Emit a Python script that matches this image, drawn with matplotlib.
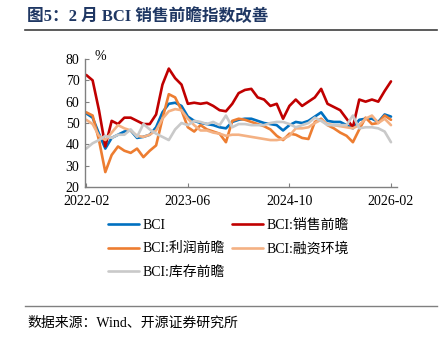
import matplotlib
matplotlib.use("Agg")
import matplotlib.pyplot as plt
from matplotlib.lines import Line2D

plt.rcParams['font.family'] = ['Liberation Serif', 'Noto Sans CJK SC']
plt.rcParams['axes.unicode_minus'] = False

tick_labels = ["2022-02", "2023-06", "2024-10", "2026-02"]
tick_idx = [0, 16, 32, 48]

bci = [54.5, 52.5, 45, 38, 43, 44.5, 46, 46.5, 43, 43.5, 44.5, 48, 55, 59, 59.5, 58,
       53, 51, 50, 49.5, 49, 48, 47.5, 50.5, 51.5, 52, 52, 51, 50, 49.5, 49, 46.5,
       49, 50.5, 50, 51, 53, 55, 51, 50.5, 50.5, 49, 47.5, 51.5, 52, 52, 50.5, 54, 53]
sales = [72.5, 70, 56, 39, 51, 49.5, 52.5, 52.5, 51, 49.5, 49.5, 54, 68, 75.5, 71, 68,
         59, 59.5, 59, 59.5, 58, 56, 55.5, 59, 64, 65.5, 66, 62, 61, 58, 59, 52,
         58, 61, 58, 60, 62, 66, 59, 57.5, 56, 52, 48, 61, 60, 61, 60, 65, 69.5]
profit = [55, 53.5, 42, 27, 35, 39, 37, 36, 38, 34, 37, 39.5, 52, 63.5, 62, 56,
          48, 46, 49, 47, 46, 45, 41, 51, 52, 51.5, 50.5, 49.5, 48.5, 47, 44, 42,
          45, 44.5, 43, 42.5, 50.5, 52, 49, 47.5, 45.5, 44, 41, 47, 52.5, 49.5, 50, 53.5, 51.5]
finance = [51.5, 49.5, 44, 42, 45.5, 49, 47.5, 46.5, 44, 43.5, 44.5, 46.5, 52, 55.5, 56.5, 56,
           52, 49, 46.5, 46.5, 45.5, 45, 44, 44.5, 44.5, 44, 43.5, 43, 42.5, 42, 42, 42.5,
           44, 47.5, 47.5, 48, 50, 51.5, 49.5, 49, 48.5, 48, 47.5, 49, 52, 53.5, 50, 52, 49]
inventory = [38, 40.5, 42, 44, 43, 44.5, 44.5, 47, 43.5, 49.5, 47, 45, 43.5, 42, 47, 50,
             49, 51, 50.5, 49.5, 50.5, 49, 53.5, 48, 49.5, 49.5, 49, 49, 49, 50, 50.5, 50.5,
             49.5, 48, 49, 50, 52.5, 51, 49, 49, 49, 49, 53.5, 47.5, 48, 48, 47.5, 46, 41]

series = [
    ("BCI", bci, "#0070C0"),
    ("BCI:销售前瞻", sales, "#C00000"),
    ("BCI:利润前瞻", profit, "#ED7D31"),
    ("BCI:融资环境", finance, "#F4B183"),
    ("BCI:库存前瞻", inventory, "#C9C9C9"),
]

fig = plt.figure(figsize=(4.43, 3.39), dpi=100)
ax = fig.add_axes([85/443, 1-187/339, (396.7-85)/443, (187-59)/339])

handles = {}
x = list(range(len(bci)))
for name, vals, col in series:
    h, = ax.plot(x, vals, color=col, lw=1.9, solid_joinstyle='round', solid_capstyle='round', label=name)
    handles[name] = h

ax.set_xlim(-0.2, 48.9)
ax.set_ylim(20, 80)
ax.set_yticks([20, 30, 40, 50, 60, 70, 80])
ax.set_xticks(tick_idx)
ax.set_xticklabels(tick_labels)
for s in ['top', 'right']:
    ax.spines[s].set_visible(False)
for s in ['left', 'bottom']:
    ax.spines[s].set_color('#808080')
    ax.spines[s].set_linewidth(1.0)
ax.tick_params(direction='in', length=3, color='#808080', labelsize=10, labelcolor='black')
ax.tick_params(axis='x', pad=6)
ax.tick_params(axis='y', pad=4)

fig.text(100/443, 1-57/339, '%', ha='center', va='center', fontsize=10)

order = ["BCI", "BCI:利润前瞻", "BCI:库存前瞻", "BCI:销售前瞻", "BCI:融资环境"]
fig.legend([handles[n] for n in order], order, ncol=2, loc='upper left',
           bbox_to_anchor=(108/443, 1-219/339), frameon=False, fontsize=10,
           borderpad=0, borderaxespad=0, handlelength=2.2, handletextpad=0.3,
           columnspacing=0.5, labelspacing=0.75)

fig.text(27/443, 1-17/339, '图5：2 月 BCI 销售前瞻指数改善', ha='left', va='center',
         fontsize=12, fontweight='bold', color='#1F3763')
fig.add_artist(Line2D([25/443, 437/443], [1-30/339]*2, color='#404040', lw=1.2))
fig.add_artist(Line2D([25/443, 437/443], [1-306/339]*2, color='#808080', lw=1.0))
fig.text(27/443, 1-323/339, '数据来源：Wind、开源证券研究所', ha='left', va='center',
         fontsize=10)

fig.savefig('out.png', dpi=100)
